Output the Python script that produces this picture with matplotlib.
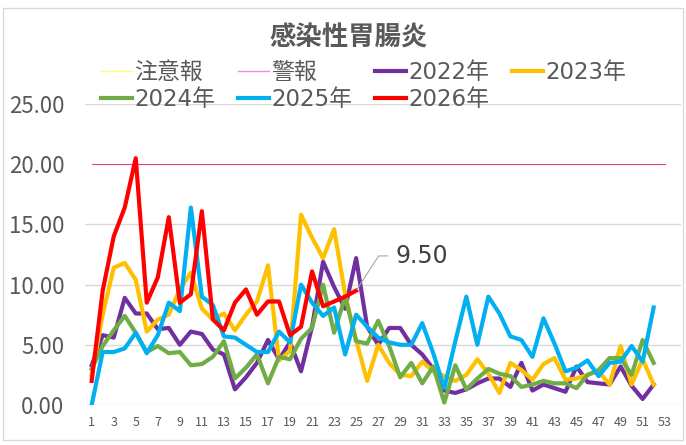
import numpy as np
import matplotlib.pyplot as plt
from matplotlib.lines import Line2D
from matplotlib.patches import Rectangle

plt.rcParams['font.family'] = ['Noto Sans CJK JP', 'DejaVu Sans']

weeks = np.arange(1, 54)
week_labels = [str(w) if w % 2 == 1 else '' for w in weeks]

keiho = [20.0] * 53  # 警報 threshold
chuiho = []          # 注意報 (not drawn for this disease)

y2022 = [3.3, 5.8, 5.6, 8.9, 7.6, 7.6, 6.3, 6.4, 5.0, 6.1, 5.9, 4.6, 4.2, 1.3, 2.3, 3.5, 5.4, 3.8,
         5.2, 2.8, 6.5, 11.9, 9.8, 8.0, 12.2, 6.5, 5.0, 6.4, 6.4, 5.0, 4.2, 3.0, 1.2, 1.0, 1.3, 1.8,
         2.2, 2.2, 1.5, 3.5, 1.2, 1.7, 1.4, 1.1, 3.2, 1.9, 1.8, 1.7, 3.2, 1.6, 0.5, 1.7]
y2023 = [2.5, 7.5, 11.4, 11.8, 10.4, 6.1, 7.1, 7.5, 9.6, 11.0, 8.0, 7.1, 7.6, 6.2, 7.5, 8.6, 11.6, 3.7,
         4.5, 15.8, 13.9, 12.2, 14.6, 9.2, 5.4, 2.0, 5.0, 3.5, 2.5, 2.4, 3.6, 2.8, 2.4, 2.0, 2.5, 3.8,
         2.6, 1.0, 3.5, 2.9, 2.1, 3.4, 3.9, 2.1, 2.2, 2.5, 2.8, 1.7, 4.9, 1.7, 3.8, 1.7]
y2024 = [3.0, 4.9, 6.2, 7.4, 6.0, 4.4, 4.9, 4.3, 4.4, 3.3, 3.4, 4.0, 5.3, 2.2, 3.1, 4.2, 1.8, 4.0,
         3.8, 5.5, 6.4, 10.0, 6.0, 9.0, 5.3, 5.1, 7.0, 4.9, 2.3, 3.5, 1.8, 3.2, 0.2, 3.3, 1.3, 2.2,
         3.0, 2.6, 2.4, 1.5, 1.7, 2.0, 1.8, 1.8, 1.4, 2.5, 2.9, 3.9, 3.9, 2.5, 5.4, 3.5]
y2025 = [0.0, 4.4, 4.4, 4.7, 6.0, 4.3, 5.8, 8.5, 7.8, 16.4, 9.0, 8.3, 5.7, 5.6, 5.0, 4.4, 4.4, 6.1,
         5.2, 10.0, 8.5, 7.4, 8.1, 4.2, 7.5, 6.5, 5.6, 5.2, 5.0, 5.0, 6.8, 4.3, 1.4, 5.3, 9.0, 5.0,
         9.0, 7.6, 5.7, 5.4, 4.0, 7.2, 5.1, 2.8, 3.1, 3.7, 2.4, 3.5, 3.6, 4.9, 3.6, 8.1]
y2026 = [2.0, 9.5, 14.0, 16.4, 20.5, 8.5, 10.6, 15.6, 8.5, 9.2, 16.1, 7.1, 6.2, 8.5, 9.6, 7.5, 8.6, 8.6,
         5.8, 6.5, 11.1, 8.2, 8.6, 9.0, 9.5]

text_c = '#595959'
grid_c = '#d9d9d9'
wide = ['DejaVu Sans', 'Noto Sans CJK JP']

fig = plt.figure(figsize=(6.86, 4.45), dpi=100)
fig.patches.append(Rectangle((0.005, 0.012), 0.99, 0.97, transform=fig.transFigure,
                             fill=False, edgecolor=grid_c, lw=1))
ax = fig.add_axes([0.124, 0.0899, 0.869, 0.6763])

for v in [0, 5, 10, 15, 25]:
    ax.axhline(v, color=grid_c, lw=1, zorder=0)

ax.plot(weeks, keiho, color='#e0408a', lw=0.8, zorder=1)

series = [(y2022, '#7030a0'), (y2023, '#ffc000'), (y2024, '#70ad47'),
          (y2025, '#00b0f0'), (y2026, '#ff0000')]
for ys, c in series:
    ax.plot(weeks[:len(ys)], ys, color=c, lw=3, solid_joinstyle='round', zorder=2)

ax.annotate(f'{y2026[-1]:.2f}', xy=(len(y2026), y2026[-1]), xytext=(28, 25),
            textcoords='offset points', ha='left', va='center', fontsize=17,
            family=wide, color='#404040',
            arrowprops=dict(arrowstyle='-', color='#a6a6a6', lw=0.8, shrinkA=3, shrinkB=1,
                            connectionstyle='angle,angleA=0,angleB=57,rad=0'))

ax.set_xlim(0.4, 54.5)
ax.set_ylim(0, 25)
ax.set_xticks(weeks)
ax.set_xticklabels(week_labels, fontsize=9, color=text_c)
ax.set_yticks([0, 5, 10, 15, 20, 25])
ax.set_yticklabels([f'{v:.2f}' for v in [0, 5, 10, 15, 20, 25]], fontsize=16, color=text_c)
ax.tick_params(axis='both', length=0)
ax.tick_params(axis='y', pad=15)
ax.tick_params(axis='x', pad=8)
for s in ax.spines.values():
    s.set_visible(False)

fig.text(0.508, 0.915, '感染性胃腸炎', ha='center', va='center', fontsize=19,
         fontweight='bold', color=text_c)

h = {
    '注意報': Line2D([], [], color='#ffff66', lw=1),
    '警報': Line2D([], [], color='#ff88cc', lw=1),
    '2022年': Line2D([], [], color='#7030a0', lw=3),
    '2023年': Line2D([], [], color='#ffc000', lw=3),
    '2024年': Line2D([], [], color='#70ad47', lw=3),
    '2025年': Line2D([], [], color='#00b0f0', lw=3),
    '2026年': Line2D([], [], color='#ff0000', lw=3),
}
order = ['注意報', '2024年', '警報', '2025年', '2022年', '2026年', '2023年']
fig.legend([h[k] for k in order], order, ncol=4, loc='center left',
           bbox_to_anchor=(0.130, 0.807), frameon=False,
           prop={'family': wide, 'size': 16.5},
           handlelength=1.35, handletextpad=0.13, columnspacing=0.97,
           labelspacing=0.2, labelcolor=text_c, borderpad=0)

fig.savefig('out.png', dpi=100, facecolor='white')
